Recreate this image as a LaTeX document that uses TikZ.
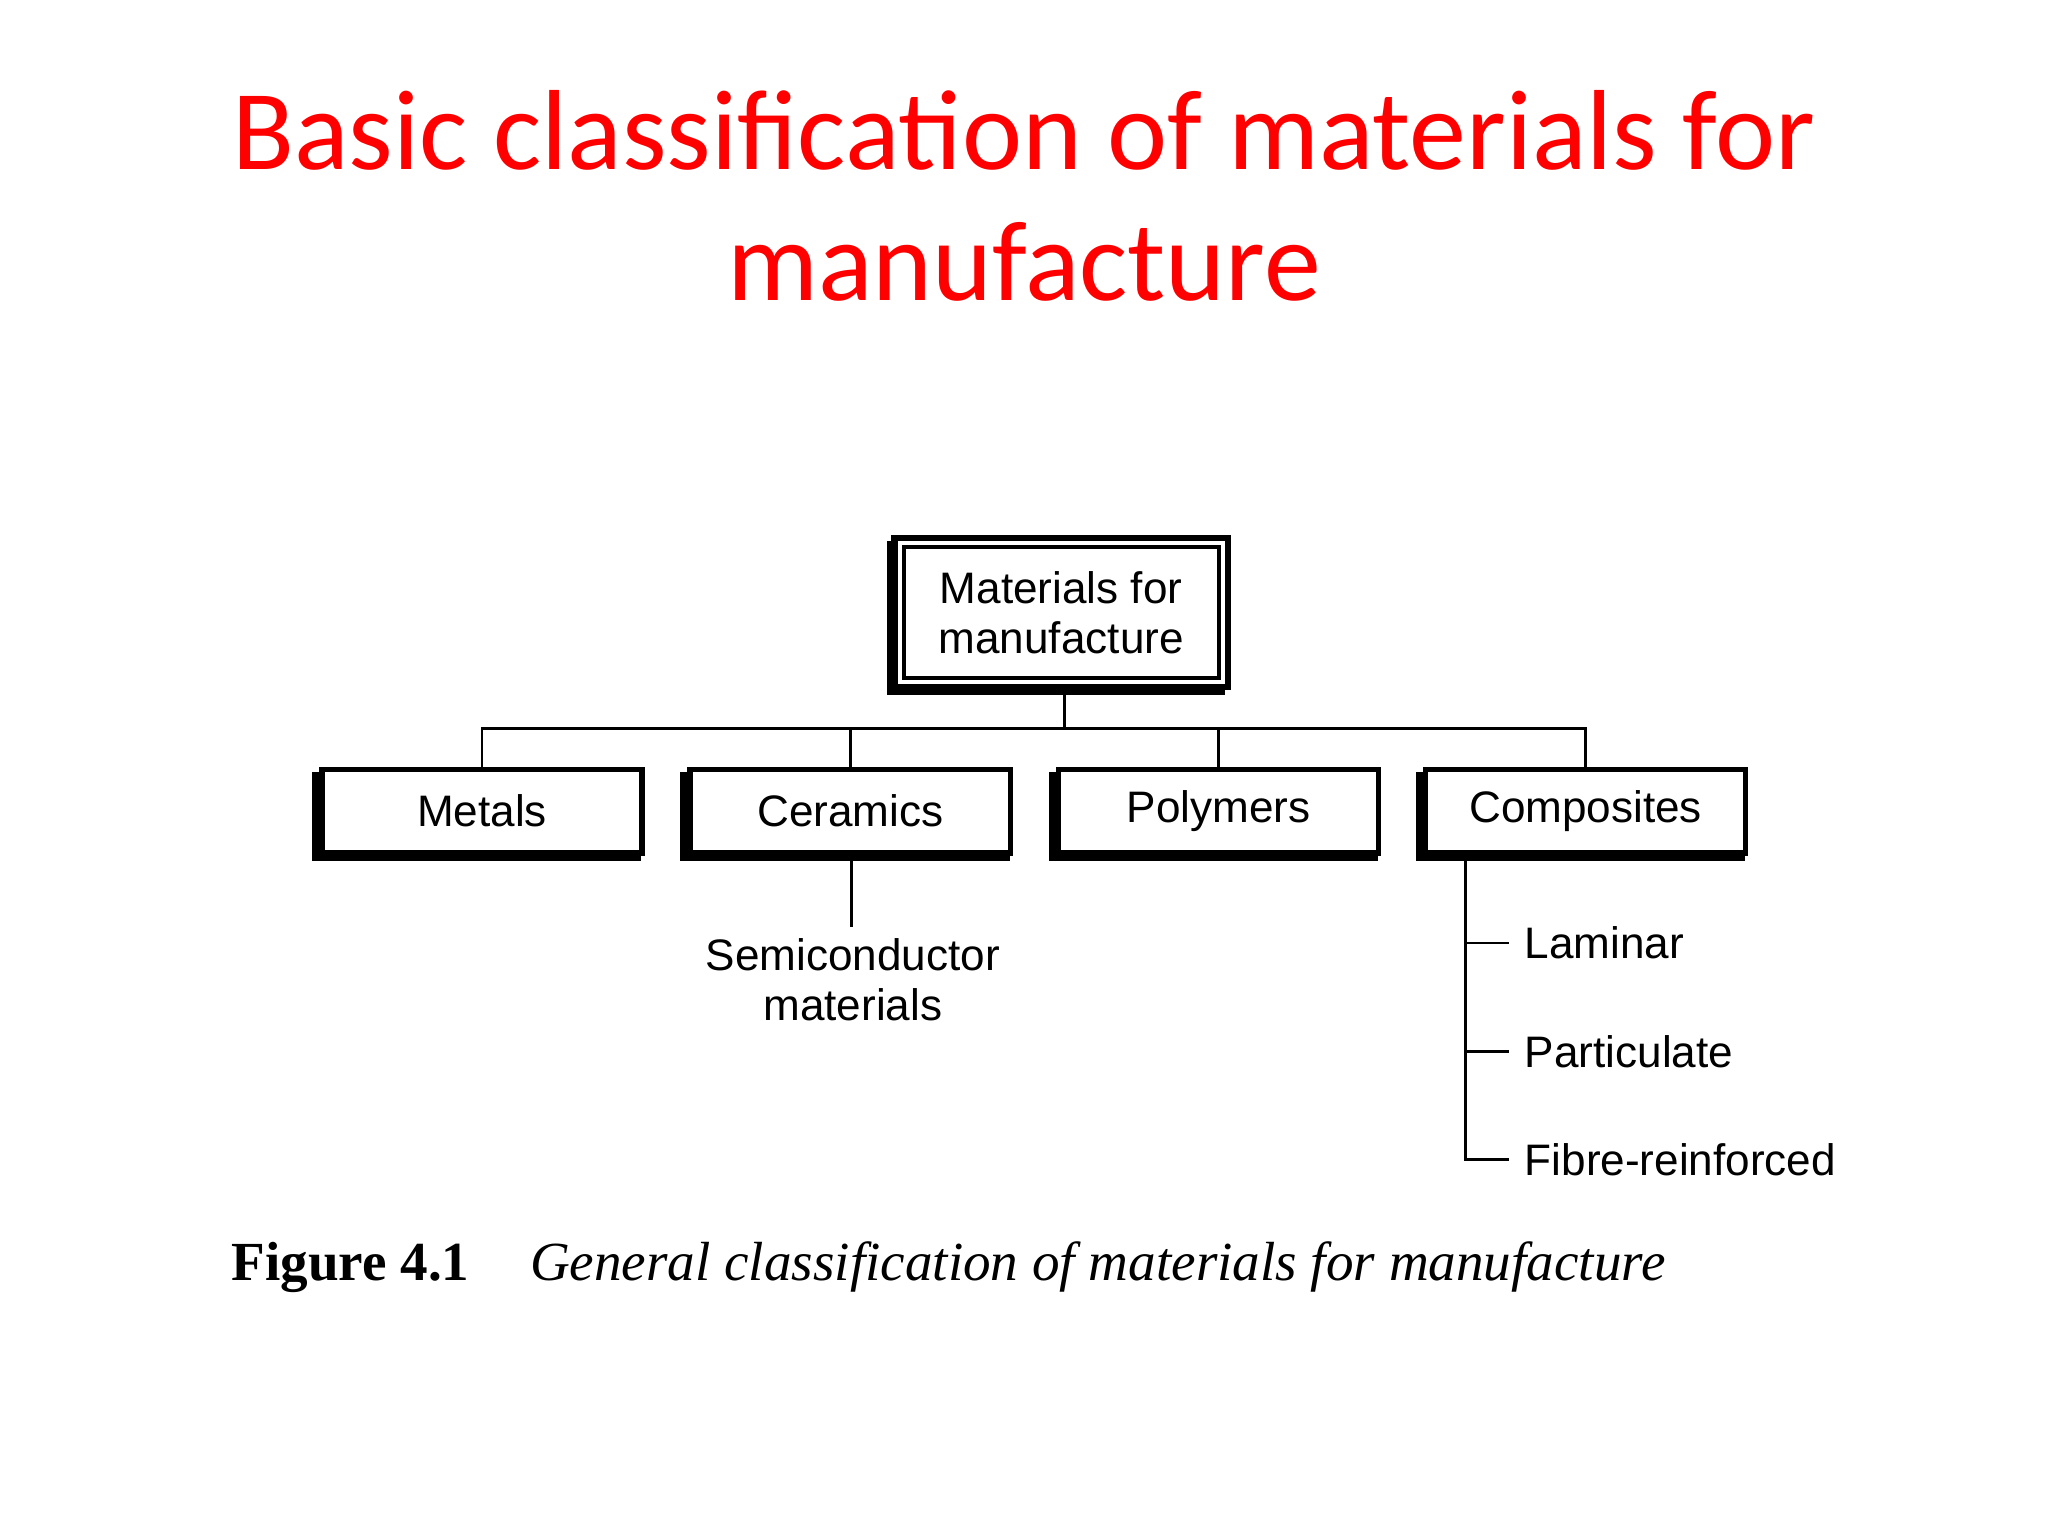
\documentclass[tikz,border=0pt]{standalone}
\usepackage{fontspec}
\setmainfont{Liberation Sans}
\newfontfamily\titlefont{Carlito}
\newfontfamily\capfont{Liberation Serif}
\begin{document}
\begin{tikzpicture}[x=0.01cm,y=-0.01cm,
  bx/.style={draw,line width=1.2pt,fill=white,minimum width=2.45cm,minimum height=0.64cm,font=\fontsize{9.6}{12}\selectfont},
  ln/.style={line width=0.6pt}]
\useasboundingbox[fill=white] (0,0) rectangle (1568,1176);
\node[text=red,font=\titlefont\fontsize{24.8}{28.5}\selectfont,align=center] (title) at (784,150) {Basic classification of materials for\\manufacture};
% shadows
\fill (679,414) rectangle (938,532);
\foreach \x in {243,525,807,1088}{\fill (\x-4,591) rectangle (\x+248,659);}
\node[draw,line width=1.4pt,fill=white,minimum width=2.55cm,minimum height=1.14cm,inner sep=0pt] (root) at (812.5,469) {};
\node[draw,line width=0.8pt,minimum width=2.41cm,minimum height=1.0cm,align=center,font=\fontsize{9.6}{11}\selectfont] (rootin) at (812.5,469) {Materials for\\manufacture};
\node[bx] (met) at (369,621) {Metals};
\node[bx] (cer) at (651,621) {Ceramics};
\node[bx] (pol) at (933,621) {Polymers};
\node[bx] (com) at (1214,621) {Composites};
\coordinate (j) at (815,558);
\draw[ln] (root.south -| j) -- (j);
\draw[ln] (met.north) |- (j) -| (com.north);
\draw[ln] (cer.north) -- (cer.north |- j);
\draw[ln] (pol.north) -- (pol.north |- j);
\node[align=center,font=\fontsize{9.6}{11}\selectfont] (semi) at (653,750) {Semiconductor\\materials};
\draw[ln] (cer.south -| 652,0) -- (652,710);
\node[anchor=west,font=\fontsize{9.6}{12}\selectfont] (lam) at (1155,722) {Laminar};
\node[anchor=west,font=\fontsize{9.6}{12}\selectfont] (par) at (1155,805) {Particulate};
\node[anchor=west,font=\fontsize{9.6}{12}\selectfont] (fib) at (1155,888) {Fibre-reinforced};
\coordinate (ct) at (1122,659);
\draw[ln] (ct) |- (fib.west);
\draw[ln] (ct |- lam.west) -- (lam.west);
\draw[ln] (ct |- par.west) -- (par.west);
\node[anchor=west,font=\capfont\fontsize{12}{14}\selectfont] (cap) at (165,970) {\textbf{Figure 4.1}\hspace{1.1em}\textit{General classification of materials for manufacture}};
\end{tikzpicture}
\end{document}
